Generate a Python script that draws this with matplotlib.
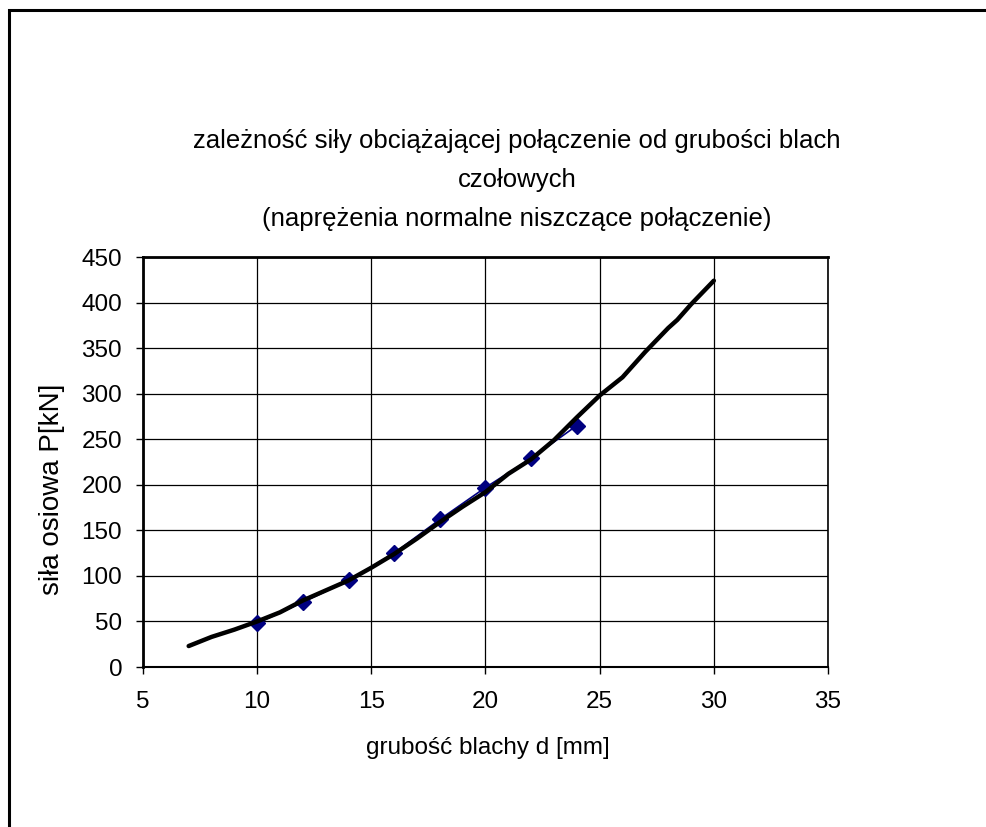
import matplotlib
matplotlib.use("Agg")
import matplotlib.pyplot as plt
from matplotlib.patches import Rectangle

plt.rcParams['font.family'] = ['Liberation Sans', 'DejaVu Sans']

# measured points: plate thickness d [mm] vs axial force P [kN]
d_meas = [10, 12, 14, 16, 18, 20, 22, 24]
P_meas = [48, 71, 95, 125, 162, 197, 229, 265]

# hand-drawn trend curve
d_curve = [7, 8, 9, 10, 11, 12, 13, 14, 15, 16, 17, 18, 19, 20, 21, 22,
           23, 24, 25, 26, 27, 28, 28.4, 29, 30]
P_curve = [23, 33, 41, 50, 60, 73, 84, 95, 109, 124, 141, 159, 176, 192,
           212, 228, 249, 274, 298, 318, 346, 372, 381, 398, 424]

x_ticks = [5, 10, 15, 20, 25, 30, 35]
y_ticks = [0, 50, 100, 150, 200, 250, 300, 350, 400, 450]

title = ("zależność siły obciążającej połączenie od grubości blach\n"
         "czołowych\n"
         "(naprężenia normalne niszczące połączenie)")
xlabel = "grubość blachy d [mm]"
ylabel = "siła osiowa P[kN]"

W, H = 987, 827
fig = plt.figure(figsize=(W / 100, H / 100), dpi=100)

# chart-area frame
fig.patches.append(Rectangle((9 / W, -0.05), 1.1, 1 - 10 / H + 0.05,
                             transform=fig.transFigure, fill=False,
                             edgecolor='black', linewidth=2.2))

ax = fig.add_axes([143 / W, 1 - 667 / H, (828 - 143) / W, (667 - 257) / H])
ax.set_xlim(5, 35)
ax.set_ylim(0, 450)
ax.set_xticks(x_ticks)
ax.set_yticks(y_ticks)
ax.grid(True, color='black', linewidth=0.9)
ax.set_axisbelow(True)
ax.tick_params(direction='out', length=5, width=1, labelsize=17.5)
ax.tick_params(axis='x', pad=12)
ax.tick_params(axis='y', pad=10)
for s in ax.spines.values():
    s.set_color('black')
    s.set_linewidth(1.2)
ax.spines['left'].set_linewidth(2)
ax.spines['top'].set_linewidth(2)
ax.spines['bottom'].set_linewidth(1.5)

ax.plot(d_meas, P_meas, color='#000080', linewidth=1.2, marker='D',
        markersize=8, markerfacecolor='#000080', markeredgecolor='#000080',
        zorder=3)
ax.plot(d_curve, P_curve, color='black', linewidth=3.2,
        solid_capstyle='round', solid_joinstyle='round', zorder=4)

fig.text(517 / W, 1 - 180 / H, title, ha='center', va='center',
         fontsize=18.5, linespacing=1.78)
fig.text(488 / W, 1 - 748 / H, xlabel, ha='center', va='center', fontsize=17.5)
fig.text(52 / W, 1 - 489 / H, ylabel, ha='center', va='center',
         rotation=90, fontsize=20)

fig.savefig('out.png', dpi=100)
